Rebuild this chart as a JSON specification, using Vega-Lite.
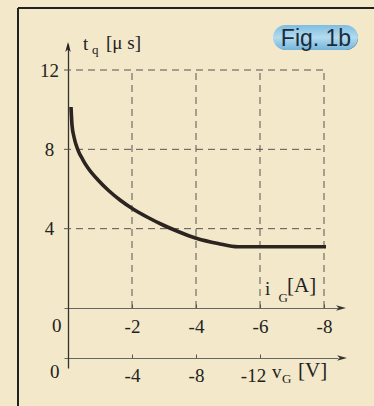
{
  "$schema": "https://vega.github.io/schema/vega-lite/v6.json",
  "width": 374,
  "height": 406,
  "autosize": {"type": "none"},
  "padding": 0,
  "background": "#f3e8c9",
  "config": {
    "view": {"stroke": null},
    "axis": {"grid": false, "title": null, "labelFont": "Liberation Serif", "labelColor": "#222222", "labelFlush": false, "labelOverlap": false}
  },
  "datasets": {
    "curve": [
      {"iG": -0.094, "tq": 10.135},
      {"iG": -0.125, "tq": 9.227},
      {"iG": -0.1875, "tq": 8.622},
      {"iG": -0.3125, "tq": 7.966},
      {"iG": -0.469, "tq": 7.462},
      {"iG": -0.625, "tq": 7.059},
      {"iG": -0.9375, "tq": 6.454},
      {"iG": -1.25, "tq": 5.95},
      {"iG": -1.625, "tq": 5.445},
      {"iG": -2.031, "tq": 4.992},
      {"iG": -2.5, "tq": 4.563},
      {"iG": -2.969, "tq": 4.185},
      {"iG": -3.4375, "tq": 3.857},
      {"iG": -4.031, "tq": 3.504},
      {"iG": -4.6875, "tq": 3.252},
      {"iG": -5.3125, "tq": 3.086},
      {"iG": -8.0625, "tq": 3.086}
    ],
    "vgrid": [
      {"iG": -2, "tq": 0, "tq2": 12},
      {"iG": -4, "tq": 0, "tq2": 12},
      {"iG": -6, "tq": 0, "tq2": 12},
      {"iG": -8, "tq": 0, "tq2": 11.9}
    ],
    "hgrid": [
      {"tq": 4, "iG": 0.125, "iG2": -7.9},
      {"tq": 8, "iG": 0.125, "iG2": -7.9},
      {"tq": 12, "iG": 0.125, "iG2": -8.1}
    ],
    "frame": [
      {"iG": 1.5625, "iG2": 1.5625, "tq": 15.126, "tq2": -4.941},
      {"iG": 1.5625, "iG2": -9.5625, "tq": 15.126, "tq2": 15.126}
    ],
    "badge": [{"iG": -6.406, "iG2": -9.0625, "tq": 14.27, "tq2": 13.01}],
    "arrowRight": [{"iG": -8.531, "tq": 0}, {"iG": -8.5625, "tq": -2.521}],
    "arrowUp": [{"iG": 0, "tq": 13.16}],
    "serif19": [
      {"text": "t", "iG": -0.469, "tq": 13.008},
      {"text": "[μ s]", "iG": -1.1875, "tq": 13.06},
      {"text": "i", "iG": -6.156, "tq": 0.655},
      {"text": "v", "iG": -6.375, "tq": -3.529},
      {"text": "0", "iG": 0.5, "tq": -1.21},
      {"text": "0", "iG": 0.5625, "tq": -3.529}
    ],
    "sub13": [
      {"text": "q", "iG": -0.75, "tq": 12.807},
      {"text": "G", "iG": -6.58, "tq": 0.3025},
      {"text": "G", "iG": -6.6875, "tq": -3.782}
    ],
    "big21": [
      {"text": "[A]", "iG": -6.844, "tq": 0.807},
      {"text": "[V]", "iG": -7.1875, "tq": -3.479}
    ],
    "fig": [{"text": "Fig. 1b", "iG": -7.75, "tq": 13.2}],
    "vgAxis": [{"vG": -4}]
  },
  "layer": [
    {
      "encoding": {
        "x": {
          "field": "iG", "type": "quantitative",
          "scale": {"domain": [0.125, -8.4375], "range": [64, 338], "nice": false, "zero": false},
          "axis": {
            "orient": "bottom", "offset": -98, "values": [-2, -4, -6, -8],
            "labelExpr": "'' + datum.value",
            "ticks": true, "tickSize": -4, "tickColor": "#555555",
            "labelPadding": 28, "labelBaseline": "alphabetic", "labelFontSize": 19,
            "domainColor": "#666666", "domainWidth": 1
          }
        },
        "y": {
          "field": "tq", "type": "quantitative",
          "scale": {"domain": [-3.025, 13.311], "range": [368, 44], "nice": false, "zero": false},
          "axis": {
            "orient": "left", "offset": -68, "values": [4, 8, 12],
            "ticks": false, "labelPadding": 19, "labelAlign": "center", "labelBaseline": "middle",
            "labelFontSize": 19, "domainColor": "#333333", "domainWidth": 1.3
          }
        }
      },
      "layer": [
        {
          "data": {"name": "frame"},
          "mark": {"type": "rule", "color": "#222222", "strokeWidth": 2},
          "encoding": {
            "x2": {"field": "iG2"},
            "y2": {"field": "tq2"}
          }
        },
        {
          "data": {"name": "vgrid"},
          "mark": {"type": "rule", "color": "#555555", "strokeWidth": 1, "strokeDash": [7, 5]},
          "encoding": {
            "y2": {"field": "tq2"}
          }
        },
        {
          "data": {"name": "hgrid"},
          "mark": {"type": "rule", "color": "#555555", "strokeWidth": 1, "strokeDash": [7, 5]},
          "encoding": {
            "x2": {"field": "iG2"}
          }
        },
        {
          "data": {"name": "curve"},
          "mark": {"type": "line", "color": "#2b2420", "strokeWidth": 3.6, "interpolate": "monotone", "strokeCap": "butt"},
          "encoding": {
            "order": {"field": "iG", "sort": "descending"}
          }
        },
        {
          "data": {"name": "arrowRight"},
          "mark": {"type": "point", "shape": "M 1 0 L -1 -0.55 L -0.45 0 L -1 0.55 Z", "filled": true, "color": "#333333", "size": 100, "opacity": 1}
        },
        {
          "data": {"name": "arrowUp"},
          "mark": {"type": "point", "shape": "M 0 -1 L 0.55 1 L 0 0.45 L -0.55 1 Z", "filled": true, "color": "#222222", "size": 100, "opacity": 1}
        },
        {
          "data": {"name": "badge"},
          "mark": {"type": "rect", "color": "#34566e", "cornerRadius": 12.5, "xOffset": 1.5, "yOffset": 1.2},
          "encoding": {
            "x2": {"field": "iG2"},
            "y2": {"field": "tq2"}
          }
        },
        {
          "data": {"name": "badge"},
          "mark": {
            "type": "rect", "cornerRadius": 12.5,
            "fill": {"gradient": "linear", "x1": 0, "y1": 0, "x2": 0, "y2": 1,
              "stops": [{"offset": 0, "color": "#7fbde0"}, {"offset": 0.5, "color": "#b3dbef"}, {"offset": 1, "color": "#74b4da"}]}
          },
          "encoding": {
            "x2": {"field": "iG2"},
            "y2": {"field": "tq2"}
          }
        },
        {
          "data": {"name": "fig"},
          "mark": {"type": "text", "font": "Liberation Sans", "fontSize": 23, "color": "#1d2c3c", "align": "center", "baseline": "alphabetic"},
          "encoding": {"text": {"field": "text"}}
        },
        {
          "data": {"name": "serif19"},
          "mark": {"type": "text", "font": "Liberation Serif", "fontSize": 19, "color": "#222222", "align": "left", "baseline": "alphabetic"},
          "encoding": {"text": {"field": "text"}}
        },
        {
          "data": {"name": "sub13"},
          "mark": {"type": "text", "font": "Liberation Serif", "fontSize": 13, "color": "#222222", "align": "left", "baseline": "alphabetic"},
          "encoding": {"text": {"field": "text"}}
        },
        {
          "data": {"name": "big21"},
          "mark": {"type": "text", "font": "Liberation Serif", "fontSize": 21, "color": "#222222", "align": "left", "baseline": "alphabetic"},
          "encoding": {"text": {"field": "text"}}
        }
      ]
    },
    {
      "data": {"name": "vgAxis"},
      "mark": {"type": "point", "opacity": 0},
      "encoding": {
        "x": {
          "field": "vG", "type": "quantitative",
          "scale": {"domain": [0.25, -16.875], "range": [64, 338], "nice": false, "zero": false},
          "axis": {
            "orient": "bottom", "offset": -48, "values": [-4, -8, -12],
            "labelExpr": "'' + datum.value",
            "labelOffset": {"condition": {"test": "datum.value === -12", "value": -7}, "value": 0},
            "ticks": true, "tickSize": -4, "tickColor": "#555555",
            "labelPadding": 27, "labelBaseline": "alphabetic", "labelFontSize": 19,
            "domainColor": "#666666", "domainWidth": 1
          }
        }
      }
    }
  ],
  "resolve": {"scale": {"x": "independent"}, "axis": {"x": "independent"}}
}
